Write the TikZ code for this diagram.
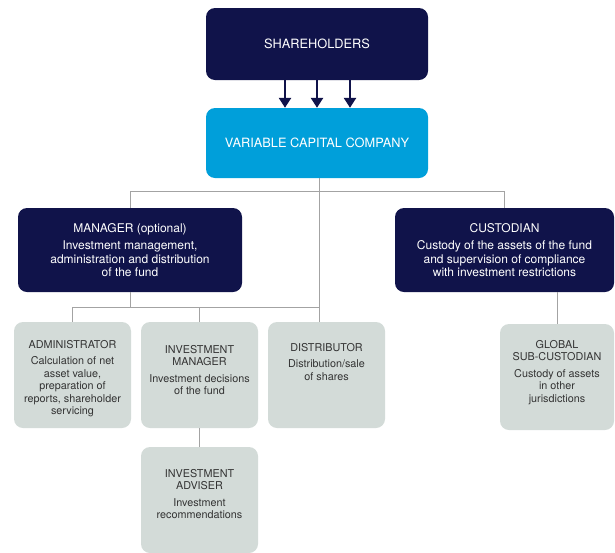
\documentclass[tikz,border=0pt]{standalone}
\usepackage{fontspec}
\setmainfont{TeX Gyre Heros}
\usetikzlibrary{arrows.meta}
\definecolor{navy}{HTML}{10134A}
\definecolor{vccblue}{HTML}{009FDA}
\definecolor{boxgrey}{HTML}{D3DBD8}
\definecolor{textgrey}{HTML}{333333}
\definecolor{linegrey}{HTML}{A3A3A3}
\tikzset{
    darkbox/.style={fill=navy, text=white, rounded corners=9pt, align=center, inner sep=0pt},
    smallbox/.style={fill=boxgrey, rounded corners=9pt, minimum width=117pt, minimum height=106pt, inner sep=0pt},
    smalltext/.style={text=textgrey, align=center, anchor=north, inner sep=0pt, font=\fontsize{10.8}{12.5}\selectfont},
    link/.style={draw=linegrey, line width=1pt},
}

\begin{document}
\begin{tikzpicture}[x=1pt, y=-1pt]
    \useasboundingbox (0,0) rectangle (615,552);

    % Kaesten oben.
    \node[darkbox, minimum width=222pt, minimum height=72pt, font=\fontsize{12.8}{14}\selectfont] (share) at (317,44) {SHAREHOLDERS};
    \node[darkbox, fill=vccblue, minimum width=222pt, minimum height=70pt, font=\fontsize{12.8}{14}\selectfont] (vcc) at (317,143) {VARIABLE CAPITAL COMPANY};
    \node[darkbox, minimum width=224pt, minimum height=84pt, font=\fontsize{12}{13.3}\selectfont] (manager) at (130,250)
        {MANAGER (optional)\\[4pt]Investment management,\\administration and distribution\\of the fund};
    \node[darkbox, minimum width=219pt, minimum height=84pt, font=\fontsize{12}{13.3}\selectfont] (custodian) at (504.5,250)
        {CUSTODIAN\\[4pt]Custody of the assets of the fund\\and supervision of compliance\\with investment restrictions};

    % Kaesten unten.
    \node[smallbox] (admin) at (72.5,375) {};
    \node[smallbox] (invman) at (199.5,375) {};
    \node[smallbox] (dist) at (326.5,375) {};
    \node[smallbox] (adviser) at (199.5,500) {};
    \node[smallbox, minimum width=114pt] (subcust) at (557,377) {};

    % Beschriftung.
    \node[smalltext] (admintext) at ([yshift=-18pt]admin.north)
        {ADMINISTRATOR\\[4pt]Calculation of net\\asset value,\\preparation of\\reports, shareholder\\servicing};
    \node[smalltext] (invmantext) at ([yshift=-23pt]invman.north)
        {INVESTMENT\\MANAGER\\[4pt]Investment decisions\\of the fund};
    \node[smalltext] (disttext) at ([yshift=-21pt]dist.north)
        {DISTRIBUTOR\\[4pt]Distribution/sale\\of shares};
    \node[smalltext] (advisertext) at ([yshift=-22pt]adviser.north)
        {INVESTMENT\\ADVISER\\[4pt]Investment\\recommendations};
    \node[smalltext] (subcusttext) at ([yshift=-16pt]subcust.north)
        {GLOBAL\\SUB-CUSTODIAN\\[4pt]Custody of assets\\in other\\jurisdictions};

    % Pfeile.
    \foreach \dx in {-32,0,33}
    {
        \draw[navy, line width=2.8pt, -{Triangle[width=12pt,length=10pt]}] ([xshift=\dx pt]share.south) -- ([xshift=\dx pt]vcc.north);
    }

    % Linien.
    \coordinate (bar) at (0,307);
    \draw[link] ([xshift=2pt]vcc.south) -- ([xshift=2pt]vcc.south |- dist.north);
    \draw[link] (manager.north) -- ++(0,-16) -| (custodian.north);
    \draw[link] (admin.north) |- ([xshift=2pt]bar -| vcc.south);
    \draw[link] (manager.south) -- (manager.south |- bar);
    \draw[link] (invman.north) -- (invman.north |- bar);
    \draw[link] (invman.south) -- (adviser.north);
    \draw[link] (custodian.south -| subcust.north) -- (subcust.north);
\end{tikzpicture}
\end{document}
